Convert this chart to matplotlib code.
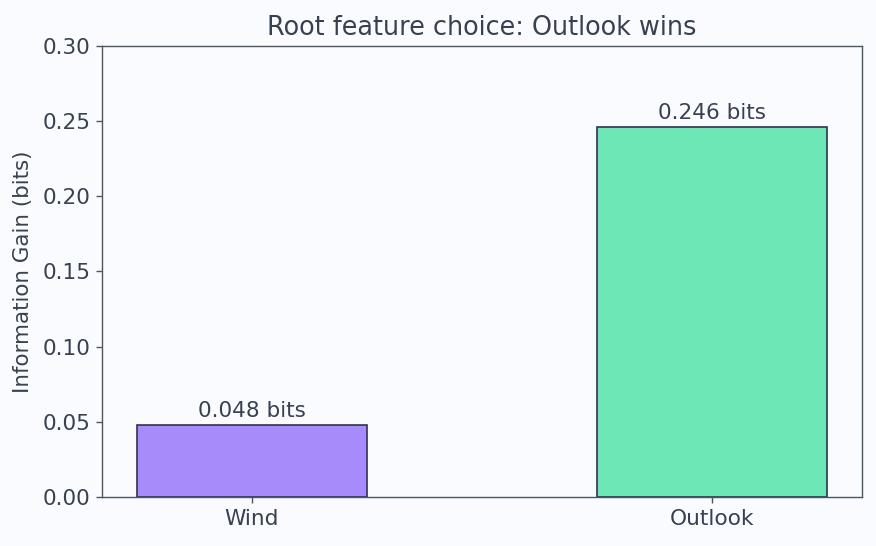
import numpy as np
from matplotlib import pyplot as plt

# Chart data
features = ["Wind", "Outlook"]
gains = [0.048, 0.246]
barColors = ["#a78bfa", "#6ee7b7"]

textColor = "#374151"
spineColor = "#4b5563"
bgColor = "#fafbfe"

fig = plt.figure(figsize=(8.76, 5.46), dpi=100, facecolor=bgColor)
ax = fig.add_subplot(1, 1, 1)
ax.set_facecolor(bgColor)

x = np.arange(len(features))
bars = ax.bar(x, gains, width=0.5, color=barColors, edgecolor="#2e3350", linewidth=1.2)

for b, g in zip(bars, gains):
    ax.annotate(f"{g:.3f} bits", (b.get_x() + b.get_width()/2, g),
                xytext=(0, 3), textcoords="offset points",
                ha="center", va="bottom", fontsize=15.5, color=textColor)

ax.set_xticks(x)
ax.set_xticklabels(features)
ax.set_ylim(0, 0.3)
ax.set_yticks(np.arange(0, 0.31, 0.05))
ax.set_yticklabels([f"{v:.2f}" for v in np.arange(0, 0.31, 0.05)])
ax.set_ylabel("Information Gain (bits)", fontsize=15.4, color=textColor, labelpad=7)
ax.set_title("Root feature choice: Outlook wins", fontsize=18.4, color=textColor, pad=8)

ax.tick_params(colors=spineColor, labelcolor=textColor, labelsize=15.6,
               length=4.2, width=1.0, pad=4.2)
for s in ax.spines.values():
    s.set_color(spineColor)
    s.set_linewidth(1.0)

fig.subplots_adjust(left=0.1164, right=0.984, top=0.916, bottom=0.09)
fig.savefig("out.png", facecolor=bgColor)
